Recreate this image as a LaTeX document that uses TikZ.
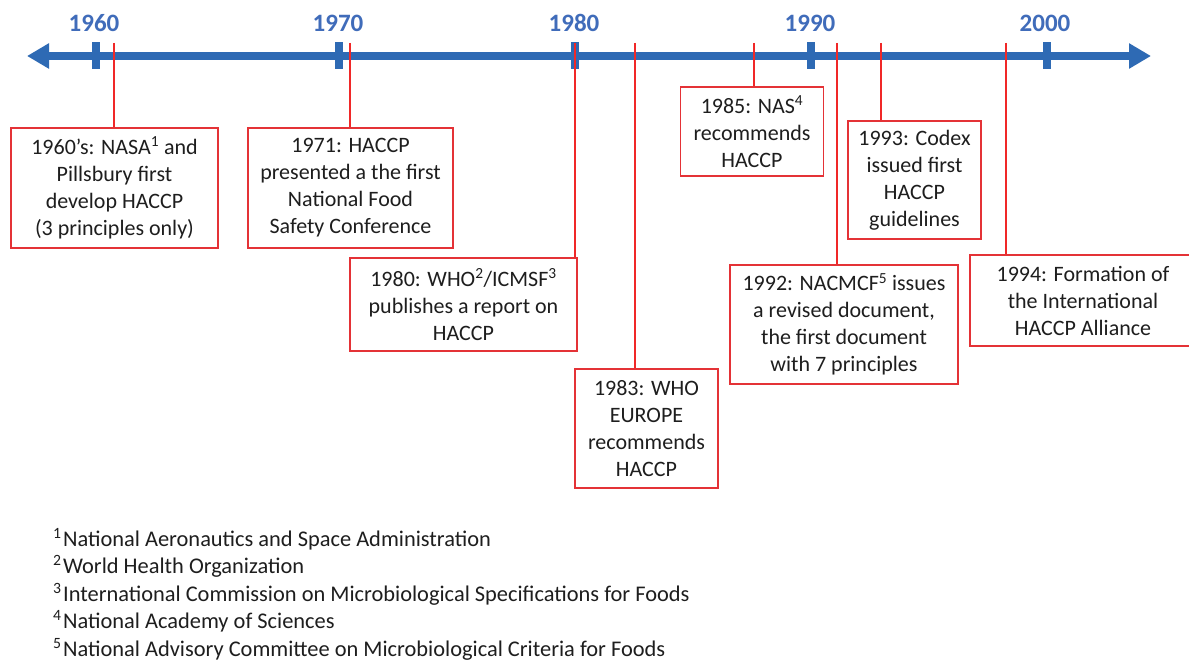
\documentclass[tikz,border=0pt]{standalone}
\usepackage{fontspec}
\setmainfont{Carlito}
\usetikzlibrary{arrows.meta}
\definecolor{axisblue}{RGB}{46,106,180}
\definecolor{yearblue}{RGB}{64,108,186}
\definecolor{boxred}{RGB}{228,50,54}
\definecolor{linered}{RGB}{240,40,40}
\definecolor{txt}{RGB}{30,30,30}
\begin{document}
\begin{tikzpicture}[x=1pt,y=-1pt,
  evbox/.style={draw=boxred, line width=1.6pt, fill=white, align=center, inner sep=0pt,
    text=txt, font=\fontsize{22}{27}\selectfont},
  tickmark/.style={fill=axisblue, minimum width=8pt, minimum height=27pt, inner sep=0pt},
  yearlbl/.style={text=yearblue, inner sep=0pt, font=\fontsize{25}{27}\selectfont\bfseries},
  conn/.style={draw=linered, line width=1.3pt},
  foot/.style={anchor=base west, inner sep=0pt, text=txt, font=\fontsize{22.4}{27}\selectfont}]
\useasboundingbox (0,0) rectangle (1189,660);
\fill[white] (0,0) rectangle (1189,660);

% axis
\coordinate (aL) at (27,56);
\coordinate (aR) at (1151,56);
\draw[axisblue, line width=8pt, {Triangle[length=22pt,width=24pt]}-{Triangle[length=22pt,width=24pt]}] (aL) -- (aR);

% ticks and year labels
\node[tickmark] (k60) at (96,55.5) {};
\node[tickmark] (k70) at (339,55.5) {};
\node[tickmark] (k80) at (575,55.5) {};
\node[tickmark] (k90) at (811,55.5) {};
\node[tickmark] (k00) at (1047,55.5) {};
\node[yearlbl] (y60) at (94,23) {1960};
\node[yearlbl] (y70) at (338,23) {1970};
\node[yearlbl] (y80) at (574,23) {1980};
\node[yearlbl] (y90) at (810,23) {1990};
\node[yearlbl] (y00) at (1045,23) {2000};

% event boxes
\node[evbox, minimum width=207pt, minimum height=120pt] (b1) at (114.5,188)
  {1960’s: NASA\textsuperscript{1} and\\Pillsbury first\\develop HACCP\\(3 principles only)};
\node[evbox, minimum width=205pt, minimum height=120pt] (b2) at (350.5,188)
  {1971: HACCP\\presented a the first\\National Food\\Safety Conference};
\node[evbox, minimum width=227pt, minimum height=93pt] (b3) at (463.5,304.5)
  {1980: WHO\textsuperscript{2}/ICMSF\textsuperscript{3}\\publishes a report on\\HACCP};
\node[evbox, minimum width=143pt, minimum height=119pt] (b4) at (646.5,428.5)
  {1983: WHO\\EUROPE\\recommends\\HACCP};
\node[evbox, minimum width=143pt, minimum height=89pt] (b5) at (752,131.5)
  {1985: NAS\textsuperscript{4}\\recommends\\HACCP};
\node[evbox, minimum width=133pt, minimum height=118pt] (b6) at (914.5,180)
  {1993: Codex\\issued first\\HACCP\\guidelines};
\node[evbox, minimum width=228pt, minimum height=119pt] (b7) at (844,324.5)
  {1992: NACMCF\textsuperscript{5} issues\\a revised document,\\the first document\\with 7 principles};
\node[evbox, minimum width=226pt, minimum height=91pt] (b8) at (1083,300.5)
  {1994: Formation of\\the International\\HACCP Alliance};

% connectors
\coordinate (t1) at (114,43);
\coordinate (t2) at (350,43);
\coordinate (t3) at (575,43);
\coordinate (t4) at (635,43);
\coordinate (t5) at (754,43);
\coordinate (t6) at (881,43);
\coordinate (t7) at (837,43);
\coordinate (t8) at (1006,43);
\draw[conn] (t1) -- (t1 |- b1.north);
\draw[conn] (t2) -- (t2 |- b2.north);
\draw[conn] (t3) -- (t3 |- b3.north);
\draw[conn] (t4) -- (t4 |- b4.north);
\draw[conn] (t5) -- (t5 |- b5.north);
\draw[conn] (t6) -- (t6 |- b6.north);
\draw[conn] (t7) -- (t7 |- b7.north);
\draw[conn] (t8) -- (t8 |- b8.north);

% footnotes
\node[foot] (f1) at (53,546) {\textsuperscript{1}\hspace{1.5pt}National Aeronautics and Space Administration};
\node[foot] (f2) at (53,573) {\textsuperscript{2}\hspace{1.5pt}World Health Organization};
\node[foot] (f3) at (53,601) {\textsuperscript{3}\hspace{1.5pt}International Commission on Microbiological Specifications for Foods};
\node[foot] (f4) at (53,628) {\textsuperscript{4}\hspace{1.5pt}National Academy of Sciences};
\node[foot] (f5) at (53,656) {\textsuperscript{5}\hspace{1.5pt}National Advisory Committee on Microbiological Criteria for Foods};
\end{tikzpicture}
\end{document}
